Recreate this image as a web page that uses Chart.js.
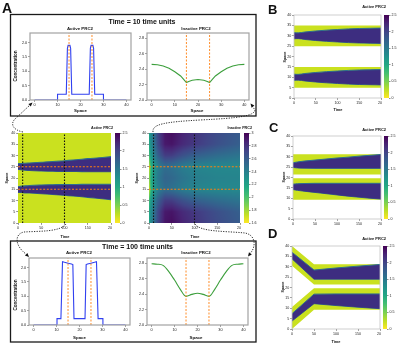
<!DOCTYPE html>
<html><head><meta charset="utf-8">
<script src="https://cdn.jsdelivr.net/npm/chart.js@4/dist/chart.umd.min.js"></script>
<style>
html,body{margin:0;padding:0;background:#fff;}
#root{position:relative;width:400px;height:345px;overflow:hidden;background:#fff;}
#root canvas{position:absolute;}
#overlay{position:absolute;left:0;top:0;pointer-events:none;}
</style></head>
<body><div id="root"></div>
<script>
// ================= DATA =================
// tick values / labels
const spaceTickVals = [0, 10, 20, 30, 40];
const spaceTickLabels = ['0', '10', '20', '30', '40'];
const concTickVals = [0, 0.5, 1, 1.5, 2];
const concTickLabels = ['0.0', '0.5', '1.0', '1.5', '2.0'];
const inConcTickVals = [2.0, 2.2, 2.4, 2.6, 2.8];
const inConcTickLabels = ['2.0', '2.2', '2.4', '2.6', '2.8'];
const hmSpaceTickVals = [0, 5, 10, 15, 20, 25, 30, 35, 40];
const hmSpaceTickLabels = ['0', '5', '10', '15', '20', '25', '30', '35', '40'];
const timeTickVals = [0, 50, 100, 150, 200];
const timeTickLabels = ['0', '50', '100', '150', '200'];
const actCbarVals = [0, 0.5, 1, 1.5, 2, 2.5];
const actCbarLabels = ['0', '0.5', '1', '1.5', '2', '2.5'];
const inCbarVals = [1.6, 1.8, 2.0, 2.2, 2.4, 2.6, 2.8, 3.0];
const inCbarLabels = ['1.6', '1.8', '2', '2.2', '2.4', '2.6', '2.8', '3'];
const markerSpace = [15, 25];     // orange dashed lines
const markerTimes = [10, 100];    // black dotted lines

// Panel A : profiles at time = 10
const actT10X = [0, 10, 10, 13.8, 14.3, 14.6, 15.4, 15.7, 16.2, 23.8, 24.3, 24.6, 25.4, 25.7, 26.2, 30, 30, 40];
const actT10Y = [0, 0, 0.2, 0.2, 1.8, 1.9, 1.9, 1.8, 0.2, 0.2, 1.8, 1.9, 1.9, 1.8, 0.2, 0.2, 0, 0];
const inT10X = [0, 2.5, 5, 7.5, 10, 12.5, 14, 15, 16, 17.5, 20, 22.5, 24, 25, 26, 27.5, 30, 32.5, 35, 37.5, 40];
const inT10Y = [2.46, 2.455, 2.44, 2.41, 2.365, 2.31, 2.26, 2.225, 2.24, 2.255, 2.265, 2.255, 2.24, 2.225, 2.26, 2.31, 2.365, 2.41, 2.44, 2.455, 2.46];
// Panel A : profiles at time = 100
const actT100X = [0, 10.2, 10.2, 11.9, 12.6, 13.5, 15, 16.5, 17.1, 17.6, 22.4, 22.9, 23.5, 25, 26.5, 27.4, 28.1, 30.2, 30.2, 40];
const actT100Y = [0, 0, 0.22, 0.22, 2.2, 2.18, 2.15, 2.12, 2.1, 0.22, 0.22, 2.1, 2.12, 2.15, 2.18, 2.2, 0.22, 0.22, 0, 0];
const inT100X = [0, 2.5, 5, 7.5, 10, 12.5, 15, 17.5, 20, 22.5, 25, 27.5, 30, 32.5, 35, 37.5, 40];
const inT100Y = [2.79, 2.785, 2.77, 2.69, 2.58, 2.46, 2.37, 2.395, 2.41, 2.395, 2.37, 2.46, 2.58, 2.69, 2.77, 2.785, 2.79];

// Panel A : active PRC2 kymograph (band edges in space vs time)
const hmTimes = [0, 5, 10, 25, 50, 75, 100, 125, 150, 175, 200];
const actUpperTop = [26.4, 26.4, 26.5, 26.7, 27.0, 27.3, 27.7, 28.1, 28.6, 29.0, 29.5];
const actUpperBot = [23.8, 23.7, 23.6, 23.3, 23.1, 23.0, 22.9, 22.9, 22.8, 22.8, 22.8];
const actLowerTop = [16.2, 16.3, 16.4, 16.7, 16.9, 17.0, 17.1, 17.1, 17.2, 17.2, 17.2];
const actLowerBot = [13.6, 13.6, 13.5, 13.3, 13.0, 12.7, 12.3, 11.9, 11.4, 10.9, 10.4];
const actDomTimes = [0, 200];
const actDomTop = [40, 40];
const actDomBot = [0, 0];

// Panel A : inactive PRC2 kymograph grid (rows = space, cols = time)
const inTimes = [0, 4, 10, 20, 35, 50, 75, 100, 150, 200];
const inSpace = [0, 5, 10, 15, 20, 25, 30, 35, 40];
const inactiveGrid = [
  [2.15, 2.35, 2.46, 2.72, 2.92, 2.95, 2.86, 2.79, 2.68, 2.60],
  [2.12, 2.33, 2.44, 2.70, 2.90, 2.92, 2.83, 2.77, 2.66, 2.58],
  [2.00, 2.25, 2.365, 2.58, 2.75, 2.75, 2.65, 2.58, 2.51, 2.46],
  [1.65, 2.08, 2.225, 2.40, 2.50, 2.48, 2.41, 2.37, 2.35, 2.35],
  [1.80, 2.13, 2.265, 2.44, 2.55, 2.53, 2.46, 2.41, 2.38, 2.37],
  [1.65, 2.08, 2.225, 2.40, 2.50, 2.48, 2.41, 2.37, 2.35, 2.35],
  [2.00, 2.25, 2.365, 2.58, 2.75, 2.75, 2.65, 2.58, 2.51, 2.46],
  [2.12, 2.33, 2.44, 2.70, 2.90, 2.92, 2.83, 2.77, 2.66, 2.58],
  [2.15, 2.35, 2.46, 2.72, 2.92, 2.95, 2.86, 2.79, 2.68, 2.60]
];

// Panel B
const bTimes = [0, 5, 10, 25, 50, 75, 100, 125, 150, 175, 200];
const bUpperTop = [31.5, 31.4, 31.4, 31.8, 32.3, 32.7, 33.0, 33.3, 33.5, 33.6, 33.7];
const bUpperBot = [28.5, 28.6, 28.6, 28.2, 27.7, 27.3, 27.0, 26.7, 26.5, 26.4, 26.3];
const bLowerTop = [11.5, 11.4, 11.4, 11.8, 12.3, 12.7, 13.0, 13.3, 13.5, 13.6, 13.7];
const bLowerBot = [8.5, 8.6, 8.6, 8.2, 7.7, 7.3, 7.0, 6.7, 6.5, 6.4, 6.3];
const bDomTimes = [0, 200];
const bUpperDomTop = [35, 35];
const bUpperDomBot = [25, 25];
const bLowerDomTop = [15, 15];
const bLowerDomBot = [5, 5];

// Panel C
const cTimes = [0, 5, 10, 25, 50, 75, 100, 125, 150, 175, 200];
const cUpperTop = [27.1, 27.3, 27.5, 27.9, 28.4, 28.9, 29.4, 29.8, 30.3, 30.7, 31.1];
const cUpperBot = [24.9, 24.7, 24.6, 24.5, 24.4, 24.4, 24.4, 24.4, 24.4, 24.4, 24.4];
const cLowerTop = [16.8, 16.9, 17.0, 17.1, 17.2, 17.2, 17.2, 17.2, 17.2, 17.2, 17.2];
const cLowerBot = [14.2, 14.0, 13.8, 13.4, 12.8, 12.2, 11.6, 11.0, 10.5, 10.0, 9.6];
const cDomTimes = [0, 200];
const cUpperDomTop = [31.2, 31.2];
const cUpperDomBot = [21.4, 21.4];
const cLowerDomTop = [19.6, 19.6];
const cLowerDomBot = [9.3, 9.3];

// Panel D
const dBandTimes = [0, 50, 100, 150, 200];
const dUpperTop = [37.0, 28.4, 29.4, 30.3, 31.1];
const dUpperBot = [33.8, 24.0, 24.0, 24.0, 24.0];
const dLowerTop = [7.4, 16.8, 16.9, 16.9, 16.9];
const dLowerBot = [3.8, 12.2, 11.3, 10.5, 9.8];
const dDomTimes = [0, 50, 200];
const dUpperDomTop = [40, 31.2, 31.2];
const dUpperDomBot = [30.5, 21.4, 21.4];
const dLowerDomTop = [10.6, 19.6, 19.6];
const dLowerDomBot = [0, 9.3, 9.3];

// ================= STYLE / HELPERS =================
const FONT = "'Liberation Sans', Arial, sans-serif";
const VIRIDIS = ['#440154','#482475','#414487','#355f8d','#2a788e','#21918c','#22a884','#44bf70','#7ad151','#bddf26','#fde725'];
const VIR_RGB = VIRIDIS.map(h => [1,3,5].map(k => parseInt(h.slice(k,k+2),16)));
function viridis(f){ f = Math.max(0, Math.min(1, f)); const p = f*10; const i = Math.min(9, Math.floor(p)); const u = p - i; const a = VIR_RGB[i], b = VIR_RGB[i+1]; return [0,1,2].map(k => Math.round(a[k] + (b[k]-a[k])*u)); }
function cmapR(v, vmin, vmax){ return viridis(1 - (v - vmin)/(vmax - vmin)); }
const YELLOW = '#cae11f', DARK = '#3d2d80', EDGE = '#2d6e8e';
const BLUE = '#3040f0', GREEN = '#3c9f3c', ORANGE = '#ff7f0e';

const root = document.getElementById('root');
Chart.defaults.font.family = FONT;

function pts(xs, ys){ return xs.map((x, i) => ({x: x, y: ys[i]})); }
function bracket(arr, v){
  const n = arr.length;
  if (v <= arr[0]) return [0, 0, 0];
  if (v >= arr[n-1]) return [n-1, n-1, 0];
  let i = 0; while (arr[i+1] < v) i++;
  return [i, i+1, (v - arr[i])/(arr[i+1] - arr[i])];
}

const framePlugin = { id: 'frame', afterDatasetsDraw(chart, args, o){
  if (!o || !o.color) return;
  const {ctx, chartArea: a} = chart;
  ctx.save(); ctx.strokeStyle = o.color; ctx.lineWidth = o.width || 1; ctx.setLineDash([]);
  ctx.strokeRect(a.left, a.top, a.right - a.left, a.bottom - a.top); ctx.restore();
}};
const heatPlugin = { id: 'heat', beforeDatasetsDraw(chart, args, o){
  if (!o || !o.values) return;
  const {ctx, chartArea: a, scales} = chart;
  const xs = scales.x, ys = scales.y;
  const L = Math.round(a.left), T = Math.round(a.top);
  const W = Math.round(a.right) - L, H = Math.round(a.bottom) - T;
  const img = ctx.createImageData(W, H);
  for (let py = 0; py < H; py++){
    const s = ys.getValueForPixel(T + py + 0.5);
    const [j0, j1, fs] = bracket(o.space, s);
    for (let px = 0; px < W; px++){
      const t = xs.getValueForPixel(L + px + 0.5);
      const [i0, i1, ft] = bracket(o.times, t);
      const v0 = o.values[j0][i0] + (o.values[j0][i1] - o.values[j0][i0])*ft;
      const v1 = o.values[j1][i0] + (o.values[j1][i1] - o.values[j1][i0])*ft;
      const c = cmapR(v0 + (v1 - v0)*fs, o.vmin, o.vmax);
      const k = (py*W + px)*4;
      img.data[k] = c[0]; img.data[k+1] = c[1]; img.data[k+2] = c[2]; img.data[k+3] = 255;
    }
  }
  ctx.putImageData(img, L, T);
}};
Chart.register(framePlugin, heatPlugin);

function axis(o){
  const vertical = (o.pos === 'left' || o.pos === 'right');
  return {
    type: 'linear', position: o.pos, min: o.min, max: o.max,
    afterBuildTicks: ax => { ax.ticks = o.ticks.map(v => ({value: v})); },
    afterFit: ax => { if (vertical) ax.width = o.size; else ax.height = o.size;
      ax.paddingLeft = 0; ax.paddingRight = 0; ax.paddingTop = 0; ax.paddingBottom = 0; },
    grid: {display: true, drawOnChartArea: false, drawTicks: true, tickLength: (o.tl != null ? o.tl : 1.8), color: '#444', lineWidth: 0.6},
    border: {display: false},
    ticks: {font: {family: FONT, size: o.fs || 3.6}, color: '#222', padding: (o.pad != null ? o.pad : 1),
      maxRotation: 0, minRotation: 0, autoSkip: false, callback: (v, i) => o.labels[i]}
  };
}

function makeChart(plot, m, cfg){
  const [x0, y0, x1, y1] = plot;
  const W = x1 - x0 + m.l + m.r, H = y1 - y0 + m.t + m.b;
  const cv = document.createElement('canvas');
  cv.width = W; cv.height = H;
  Object.assign(cv.style, {left: (x0 - m.l) + 'px', top: (y0 - m.t) + 'px', width: W + 'px', height: H + 'px'});
  root.appendChild(cv);
  const o = cfg.options = cfg.options || {};
  o.responsive = false; o.animation = false; o.devicePixelRatio = 1; o.events = [];
  o.layout = {autoPadding: false, padding: m.pad};
  o.plugins = Object.assign({legend: {display: false}, tooltip: {enabled: false}}, o.plugins || {});
  return new Chart(cv, cfg);
}

function vline(x, y0, y1, color, dash, w){
  return {data: [{x: x, y: y0}, {x: x, y: y1}], borderColor: color, borderDash: dash, borderWidth: w, pointRadius: 0, fill: false, tension: 0, order: -1};
}
function hline(y, x0, x1, color, dash, w){
  return {data: [{x: x0, y: y}, {x: x1, y: y}], borderColor: color, borderDash: dash, borderWidth: w, pointRadius: 0, fill: false, tension: 0, order: -2};
}

function profileChart(plot, m, xs, ys, color, yMin, yMax, yTicks, yLabels, smooth){
  return makeChart(plot, {l: m.l, t: m.t, r: m.r, b: m.b, pad: {left: 0, top: m.t, right: m.r, bottom: 0}}, {
    type: 'line',
    data: {datasets: [
      {data: pts(xs, ys), borderColor: color, borderWidth: 1.1, pointRadius: 0, fill: false,
       tension: 0, cubicInterpolationMode: smooth ? 'monotone' : 'default'},
      ...markerSpace.map(s => vline(s, yMin, yMax, ORANGE, [2, 1.5], 0.9))
    ]},
    options: {
      scales: {
        x: axis({pos: 'bottom', min: -2, max: 42, ticks: spaceTickVals, labels: spaceTickLabels, size: m.b, fs: 3.8}),
        y: axis({pos: 'left', min: yMin, max: yMax, ticks: yTicks, labels: yLabels, size: m.l, fs: 3.8})
      },
      plugins: {frame: {color: '#a2a2a2', width: 1.2}}
    }
  });
}

function pairSets(xs, top, bot, fillColor, edgeColor, edgeW, mode){
  const common = {pointRadius: 0, borderColor: edgeColor, borderWidth: edgeW,
    tension: mode === 'linear' ? 0 : 0.4, cubicInterpolationMode: mode === 'linear' ? 'default' : 'monotone'};
  return [
    Object.assign({data: pts(xs, top), fill: '+1', backgroundColor: fillColor}, common),
    Object.assign({data: pts(xs, bot), fill: false}, common)
  ];
}

function kymoChart(plot, m, sets, guides, frameColor, heat){
  const datasets = sets.slice();
  if (guides){
    markerTimes.forEach(t => datasets.push(vline(t, 0, 40, '#111', [1.6, 1.4], 1.1)));
    markerSpace.forEach(s => datasets.push(hline(s, 0, 200, ORANGE, [2, 1.6], 1.1)));
  }
  return makeChart(plot, {l: m.l, t: m.t, r: m.r, b: m.b, pad: {left: 0, top: m.t, right: m.r, bottom: 0}}, {
    type: 'line',
    data: {datasets: datasets},
    options: {
      scales: {
        x: axis({pos: 'bottom', min: 0, max: 200, ticks: timeTickVals, labels: timeTickLabels, size: m.b}),
        y: axis({pos: 'left', min: 0, max: 40, ticks: hmSpaceTickVals, labels: hmSpaceTickLabels, size: m.l})
      },
      plugins: {frame: {color: frameColor, width: 0.8}, heat: heat || {}}
    }
  });
}

function colorbar(plot, vmin, vmax, ticks, labels, r){
  return makeChart(plot, {l: 0, t: 2, r: r, b: 2, pad: {left: 0, top: 2, right: 0, bottom: 2}}, {
    type: 'bar',
    data: {labels: [''], datasets: [{data: [[vmin, vmax]], barPercentage: 1, categoryPercentage: 1, borderWidth: 0,
      backgroundColor: (c) => {
        const a = c.chart.chartArea; if (!a) return '#888';
        const g = c.chart.ctx.createLinearGradient(0, a.bottom, 0, a.top);
        VIRIDIS.forEach((col, i) => g.addColorStop(i/10, VIRIDIS[10 - i]));
        return g;
      }}]},
    options: {
      scales: {
        x: {display: false},
        y: axis({pos: 'right', min: vmin, max: vmax, ticks: ticks, labels: labels, size: r, tl: 1.5})
      }
    }
  });
}

// ================= PANEL A =================
const mLine = {l: 14, t: 2, r: 2, b: 8};
profileChart([30, 33, 131, 100], mLine, actT10X, actT10Y, BLUE, 0, 2.33, concTickVals, concTickLabels, false);
profileChart([147, 33, 249, 100], {l: 12, t: 2, r: 2, b: 8}, inT10X, inT10Y, GREEN, 2.0, 2.865, inConcTickVals, inConcTickLabels, false);
profileChart([29, 258, 130, 325], mLine, actT100X, actT100Y, BLUE, 0, 2.33, concTickVals, concTickLabels, false);
profileChart([147, 258, 248, 325], {l: 12, t: 2, r: 2, b: 8}, inT100X, inT100Y, GREEN, 2.0, 2.865, inConcTickVals, inConcTickLabels, true);

kymoChart([18, 133, 111, 223], {l: 10, t: 2, r: 1, b: 8}, [
  ...pairSets(hmTimes, actUpperTop, actUpperBot, DARK, EDGE, 1.1),
  ...pairSets(hmTimes, actLowerTop, actLowerBot, DARK, EDGE, 1.1),
  ...pairSets(actDomTimes, actDomTop, actDomBot, YELLOW, 'rgba(0,0,0,0)', 0.5, 'linear')
], true, null);
colorbar([115, 133, 120, 223], 0, 2.5, actCbarVals, actCbarLabels, 12);

kymoChart([149, 133, 240, 223], {l: 12, t: 2, r: 1, b: 8}, [], true, null,
  {values: inactiveGrid, times: inTimes, space: inSpace, vmin: 1.6, vmax: 3.0});
colorbar([244, 133, 249, 223], 1.6, 3.0, inCbarVals, inCbarLabels, 12);

// ================= PANELS B, C, D =================
kymoChart([294, 15, 381, 98], {l: 8, t: 2, r: 1, b: 8}, [
  ...pairSets(bTimes, bUpperTop, bUpperBot, DARK, EDGE, 1.0),
  ...pairSets(bTimes, bLowerTop, bLowerBot, DARK, EDGE, 1.0),
  ...pairSets(bDomTimes, bUpperDomTop, bUpperDomBot, YELLOW, 'rgba(0,0,0,0)', 0.5, 'linear'),
  ...pairSets(bDomTimes, bLowerDomTop, bLowerDomBot, YELLOW, 'rgba(0,0,0,0)', 0.5, 'linear')
], false, '#c4c4c4');
colorbar([384, 15, 389, 98], 0, 2.5, actCbarVals, actCbarLabels, 11);

kymoChart([293, 136, 381, 219], {l: 8, t: 2, r: 1, b: 8}, [
  ...pairSets(cTimes, cUpperTop, cUpperBot, DARK, EDGE, 1.0),
  ...pairSets(cTimes, cLowerTop, cLowerBot, DARK, EDGE, 1.0),
  ...pairSets(cDomTimes, cUpperDomTop, cUpperDomBot, YELLOW, 'rgba(0,0,0,0)', 0.5, 'linear'),
  ...pairSets(cDomTimes, cLowerDomTop, cLowerDomBot, YELLOW, 'rgba(0,0,0,0)', 0.5, 'linear')
], false, '#c4c4c4');
colorbar([384, 136, 388, 219], 0, 2.5, actCbarVals, actCbarLabels, 12);

kymoChart([292, 246, 380, 329], {l: 8, t: 2, r: 1, b: 8}, [
  ...pairSets(dBandTimes, dUpperTop, dUpperBot, DARK, EDGE, 1.0, 'linear'),
  ...pairSets(dBandTimes, dLowerTop, dLowerBot, DARK, EDGE, 1.0, 'linear'),
  ...pairSets(dDomTimes, dUpperDomTop, dUpperDomBot, YELLOW, 'rgba(0,0,0,0)', 0.5, 'linear'),
  ...pairSets(dDomTimes, dLowerDomTop, dLowerDomBot, YELLOW, 'rgba(0,0,0,0)', 0.5, 'linear')
], false, '#c4c4c4');
colorbar([383, 246, 387, 329], 0, 2.5, actCbarVals, actCbarLabels, 12);

// ================= OVERLAY (boxes, arrows, titles, labels) =================
const NS = 'http://www.w3.org/2000/svg';
const svg = document.createElementNS(NS, 'svg');
svg.setAttribute('id', 'overlay'); svg.setAttribute('width', 400); svg.setAttribute('height', 345);
root.appendChild(svg);
function el(tag, attrs){ const e = document.createElementNS(NS, tag); for (const k in attrs) e.setAttribute(k, attrs[k]); svg.appendChild(e); return e; }
function txt(str, x, y, size, o){
  o = o || {};
  const e = el('text', {x: x, y: y, 'font-size': size, 'font-family': FONT, 'font-weight': o.w || 'bold',
    'text-anchor': o.a || 'middle', fill: '#111'});
  if (o.rot) e.setAttribute('transform', 'rotate(-90 ' + x + ' ' + y + ')');
  e.textContent = str; return e;
}
function arrowHead(tx, ty, dx, dy, s){
  const L = Math.hypot(dx, dy); dx /= L; dy /= L;
  const bx = tx - dx*s, by = ty - dy*s, px = -dy*s*0.45, py = dx*s*0.45;
  el('polygon', {points: `${tx},${ty} ${bx+px},${by+py} ${bx-px},${by-py}`, fill: '#111'});
}
// boxes
el('rect', {x: 10.5, y: 14.5, width: 245.5, height: 101.5, fill: 'none', stroke: '#1a1a1a', 'stroke-width': 1.3});
el('rect', {x: 10.5, y: 241, width: 245.5, height: 101, fill: 'none', stroke: '#1a1a1a', 'stroke-width': 1.3});
// dotted connectors
const dot = {fill: 'none', stroke: '#1a1a1a', 'stroke-width': 0.9, 'stroke-dasharray': '1.2 1.3'};
el('path', Object.assign({d: 'M 23 132 C 13 130, 10 124, 15 119 L 30 105'}, dot));
arrowHead(32.5, 102.5, 15, -14, 4);
el('path', Object.assign({d: 'M 153 132 C 152 124, 165 122, 200 120 C 240 118, 254 116, 255 110 L 252.5 106.5'}, dot));
arrowHead(250.5, 103.5, -4, -5, 4);
el('path', Object.assign({d: 'M 66 224 C 60 232, 40 231, 24 232 C 14 234, 15 246, 26 254'}, dot));
arrowHead(29, 257, 8, 8, 4);
el('path', Object.assign({d: 'M 195 224 C 200 232, 225 231, 245 233 C 256 235, 256 247, 250.5 253'}, dot));
arrowHead(248, 256.5, -6, 8, 4);

// panel letters
txt('A', 2, 12.5, 14, {a: 'start'});
txt('B', 268, 14.3, 13, {a: 'start'});
txt('C', 269, 131.5, 13, {a: 'start'});
txt('D', 268, 237.5, 13, {a: 'start'});
// panel A box titles
txt('Time = 10 time units', 142, 23.5, 7);
txt('Time = 100 time units', 137.5, 248.5, 7);
// profile titles and labels
txt('Active PRC2', 80, 29.5, 4.4);
txt('Inactive PRC2', 196, 29.5, 4.4);
txt('Space', 80.5, 111.6, 4.4);
txt('Space', 197, 111.6, 4.4);
txt('Concentration', 16.6, 66, 4.6, {rot: true});
txt('Active PRC2', 79, 254, 4.4);
txt('Inactive PRC2', 196, 254, 4.4);
txt('Space', 79.5, 338.6, 4.4);
txt('Space', 196, 338.6, 4.4);
txt('Concentration', 16.6, 295, 4.6, {rot: true});
// kymograph titles and labels
txt('Active PRC2', 113, 128.5, 3.7, {a: 'end'});
txt('Inactive PRC2', 252, 128.5, 3.7, {a: 'end'});
txt('Space', 8.3, 178, 3.7, {rot: true});
txt('Space', 138.3, 178, 3.7, {rot: true});
txt('Time', 65, 237.8, 3.9);
txt('Time', 195, 237.8, 3.9);
txt('Active PRC2', 386, 8.3, 4, {a: 'end'});
txt('Space', 286.4, 57, 3.7, {rot: true});
txt('Time', 338, 110.6, 3.9);
txt('Active PRC2', 386, 130.5, 4, {a: 'end'});
txt('Space', 285.4, 177, 3.7, {rot: true});
txt('Active PRC2', 386, 239.5, 4, {a: 'end'});
txt('Space', 284.4, 287, 3.7, {rot: true});
txt('Time', 336, 342.6, 3.9);
</script>
</body></html>
